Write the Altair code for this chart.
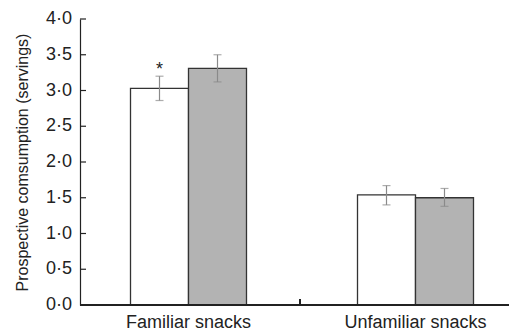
import altair as alt
import pandas as pd

groups = ["Familiar snacks", "Familiar snacks", "Unfamiliar snacks", "Unfamiliar snacks"]
conditions = ["A", "B", "A", "B"]
means = [3.03, 3.31, 1.54, 1.50]
err_low = [2.86, 3.12, 1.40, 1.38]
err_high = [3.20, 3.50, 1.67, 1.63]
stars = ["*", "", "", ""]
y_ticks = [0.0, 0.5, 1.0, 1.5, 2.0, 2.5, 3.0, 3.5, 4.0]
y_tick_labels = ["0·0", "0·5", "1·0", "1·5", "2·0", "2·5", "3·0", "3·5", "4·0"]

df = pd.DataFrame({
    "group": groups,
    "cond": conditions,
    "mean": means,
    "lo": err_low,
    "hi": err_high,
    "star": stars,
})
ticks_df = pd.DataFrame({"t": y_ticks, "lab": y_tick_labels})

W = 429
H = 286
FONT = "Liberation Sans"
ORDER = ["Familiar snacks", "Unfamiliar snacks"]

xscale = alt.Scale(range=[-5, 449], paddingInner=0, paddingOuter=0)
xoff = alt.XOffset("cond:N", scale=alt.Scale(paddingInner=0, paddingOuter=0.957))
yscale = alt.Scale(domain=[0, 4], nice=False, zero=True)

x_axis = alt.Axis(title=None, labelAngle=0, domain=False, ticks=False, labelOverlap=False,
                  labelPadding=8, labelFontSize=18, labelColor="#222",
                  labelFont=FONT)
y_axis = alt.Axis(title="Prospective comsumption (servings)", values=y_ticks,
                  labels=False, ticks=False, domainColor="#222", domainWidth=1.2,
                  titleFont=FONT, titleFontSize=16,
                  titleFontWeight="normal", titleColor="#222", titlePadding=50,
                  grid=False)

x_first = alt.X("group:N", scale=xscale, sort=ORDER, axis=x_axis)
x_enc = alt.X("group:N", scale=xscale, sort=ORDER)

base = alt.Chart(df)

bars = base.mark_bar(stroke="#333", strokeWidth=1.3).encode(
    x=x_first,
    xOffset=xoff,
    y=alt.Y("mean:Q", scale=yscale, axis=y_axis),
    fill=alt.Fill("cond:N", scale=alt.Scale(domain=["A", "B"], range=["#ffffff", "#b3b3b3"]),
                  legend=None),
)

err = base.mark_rule(color="#8a8a8a", strokeWidth=1.2).encode(
    x=x_enc, xOffset=xoff,
    y=alt.Y("lo:Q", scale=yscale), y2="hi:Q",
)
cap_lo = base.mark_tick(color="#8a8a8a", thickness=1.2, size=8).encode(
    x=x_enc, xOffset=xoff, y=alt.Y("lo:Q", scale=yscale),
)
cap_hi = base.mark_tick(color="#8a8a8a", thickness=1.2, size=8).encode(
    x=x_enc, xOffset=xoff, y=alt.Y("hi:Q", scale=yscale),
)
star = base.mark_text(font=FONT, fontSize=18, color="#222", baseline="bottom", dy=3).encode(
    x=x_enc, xOffset=xoff, y=alt.Y("hi:Q", scale=yscale), text="star:N",
)

ytick_rules = alt.Chart(ticks_df).mark_rule(color="#222", strokeWidth=1.2).encode(
    y=alt.Y("t:Q", scale=yscale),
    x=alt.value(0), x2=alt.value(6),
)
ytick_text = alt.Chart(ticks_df).mark_text(
    font=FONT, fontSize=18, color="#222", align="right", baseline="middle", dx=-8
).encode(
    y=alt.Y("t:Q", scale=yscale),
    x=alt.value(0),
    text="lab:N",
)
baseline = alt.Chart(ticks_df).mark_rule(color="#222", strokeWidth=1.3).encode(
    y=alt.datum(0), x=alt.value(0), x2=alt.value(W + 20),
)
xtick = alt.Chart(ticks_df).mark_rule(color="#222", strokeWidth=1.2).encode(
    x=alt.value(220), y=alt.value(H), y2=alt.value(H - 6),
)

chart = alt.layer(bars, err, cap_lo, cap_hi, star, ytick_rules, ytick_text, baseline, xtick).properties(
    width=W, height=H,
    autosize=alt.AutoSizeParams(type="none"),
    padding={"left": 72, "top": 11, "right": 0, "bottom": 27},
).configure_view(stroke=None).configure_axis(grid=False)

chart.save("out.html", embed_options={"renderer": "svg", "actions": False})
